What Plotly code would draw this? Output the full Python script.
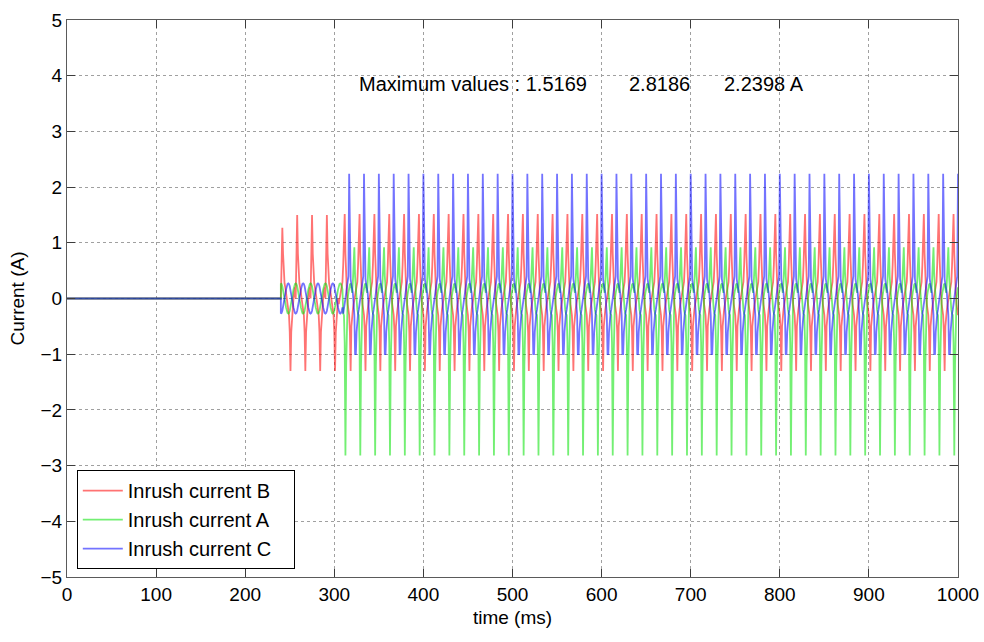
import plotly.graph_objects as go

# ---------------- data ----------------
PERIOD_MS = 1000.0 / 60.0          # 60 Hz supply
SAMPLES_PER_CYCLE = 20
END_MS = 1000.0

ENERGIZE_MS = 240.0                # phase B switched on
STEADY_REF_MS = 300.0              # steady-state cycles aligned on this time
SWITCH_B_MS = 305.0                # red trace changes to three-phase shape
SWITCH_AC_MS = 310.0               # phases A and C switched on

# one cycle (20 samples) of each current before A and C are switched on
B_PRE_CYCLE = [0.0, 0.6, 1.5, 0.8, 0.3, 0.27, 0.2, 0.1, 0.0, -0.1,
               -0.2, -0.3, -0.6, -1.3, -0.6, -0.3, -0.2, 0.0, 0.1, 0.2]
B_PRE_PEAKS = [1.27, 1.50, 1.50, 1.50, 1.50]
A_PRE_CYCLE = [0.27, 0.26, 0.22, 0.16, 0.08, 0.0, -0.08, -0.16, -0.22, -0.26,
               -0.27, -0.26, -0.22, -0.16, -0.08, 0.0, 0.08, 0.16, 0.22, 0.26]
C_PRE_CYCLE = [-0.27, -0.26, -0.22, -0.16, -0.08, 0.0, 0.08, 0.16, 0.22, 0.26,
               0.27, 0.26, 0.22, 0.16, 0.08, 0.0, -0.08, -0.16, -0.22, -0.26]

# one cycle (20 samples) of each current in steady three-phase inrush
B_CYCLE = [-0.3, -0.6, -1.3, -0.5, -0.27, -0.2, -0.1, 0.0, 0.1, 0.2,
           0.27, 0.3, 0.6, 1.0, 1.5169, 0.8, 0.3, 0.1, -0.1, -0.2]
A_CYCLE = [0.2, 0.25, 0.27, 0.2, 0.1, 0.3, 0.6, 0.92, 0.4, 0.1,
           -0.1, -0.2, -0.27, -0.3, -0.8, -2.8186, -1.2, -0.3, 0.0, 0.1]
C_CYCLE = [2.2398, 1.0, 0.35, 0.25, 0.2, 0.1, -0.1, -0.3, -1.0, -1.0,
           -0.6, -0.3, -0.27, -0.2, -0.1, 0.0, 0.1, 0.2, 0.27, 0.4]

SERIES_NAMES = ["Inrush current B", "Inrush current A", "Inrush current C"]
MAX_VALUES = ["1.5169", "2.8186", "2.2398 A"]

X_TICKS = [0, 100, 200, 300, 400, 500, 600, 700, 800, 900, 1000]
Y_TICKS = [-5, -4, -3, -2, -1, 0, 1, 2, 3, 4, 5]


def build(pre_cycle, cycle, switch_ms, pre_peaks=None):
    dt = PERIOD_MS / SAMPLES_PER_CYCLE
    t, v = [0.0, ENERGIZE_MS], [0.0, 0.0]
    i = 0
    while True:
        tt = ENERGIZE_MS + i * dt
        if tt >= switch_ms:
            break
        k, j = divmod(i, SAMPLES_PER_CYCLE)
        val = pre_cycle[j]
        if pre_peaks is not None and val == max(pre_cycle):
            val = pre_peaks[min(k, len(pre_peaks) - 1)]
        t.append(tt)
        v.append(val)
        i += 1
    i = 0
    while True:
        tt = STEADY_REF_MS + i * dt
        if tt > END_MS + 1e-9:
            break
        if tt >= switch_ms:
            t.append(tt)
            v.append(cycle[i % SAMPLES_PER_CYCLE])
        i += 1
    return t, v


tb, vb = build(B_PRE_CYCLE, B_CYCLE, SWITCH_B_MS, B_PRE_PEAKS)
ta, va = build(A_PRE_CYCLE, A_CYCLE, SWITCH_AC_MS)
tc, vc = build(C_PRE_CYCLE, C_CYCLE, SWITCH_AC_MS)

FONT = "Liberation Sans, Arial, sans-serif"
PAD = "\u00a0\u00a0\u00a0"   # a little room at the right of the legend box

fig = go.Figure()
fig.add_trace(go.Scatter(x=tb, y=vb, mode="lines", name=SERIES_NAMES[0] + PAD,
                         line=dict(color="rgba(255,0,0,0.55)", width=1.8)))
fig.add_trace(go.Scatter(x=ta, y=va, mode="lines", name=SERIES_NAMES[1] + PAD,
                         line=dict(color="rgba(0,225,0,0.55)", width=1.8)))
fig.add_trace(go.Scatter(x=tc, y=vc, mode="lines", name=SERIES_NAMES[2] + PAD,
                         line=dict(color="rgba(0,0,255,0.55)", width=1.8)))

ann_font = dict(family=FONT, size=20, color="black")
fig.add_annotation(x=325, y=3.86, xref="x", yref="y", xanchor="left",
                   text="Maximum values : " + MAX_VALUES[0], showarrow=False,
                   font=ann_font)
fig.add_annotation(x=628, y=3.86, xref="x", yref="y", xanchor="left",
                   text=MAX_VALUES[1], showarrow=False, font=ann_font)
fig.add_annotation(x=735, y=3.86, xref="x", yref="y", xanchor="left",
                   text=MAX_VALUES[2], showarrow=False, font=ann_font)

axis_common = dict(
    showline=True, linecolor="rgb(90,90,90)", linewidth=1, mirror="ticks",
    ticks="inside", ticklen=8, tickcolor="rgb(60,60,60)",
    showgrid=True, gridcolor="rgb(160,160,160)", griddash="dot", gridwidth=1,
    zeroline=False, automargin=False,
    tickfont=dict(family=FONT, size=19, color="black"),
)

fig.update_xaxes(range=[0, 1000], tickvals=X_TICKS,
                 title=dict(text="time (ms)",
                            font=dict(family=FONT, size=19, color="black"),
                            standoff=6),
                 **axis_common)
fig.update_yaxes(range=[-5, 5], tickvals=Y_TICKS,
                 ticktext=[("\u2212" + str(-v)) if v < 0 else str(v) for v in Y_TICKS],
                 title=dict(text="Current (A)",
                            font=dict(family=FONT, size=19, color="black"),
                            standoff=10),
                 **axis_common)

fig.update_layout(
    width=984, height=642,
    margin=dict(l=67, r=26, t=20, b=65),
    paper_bgcolor="white", plot_bgcolor="white",
    showlegend=True,
    legend=dict(x=0.011, y=0.192, xanchor="left", yanchor="top",
                bgcolor="white", bordercolor="black", borderwidth=1,
                font=dict(family=FONT, size=20, color="black"),
                itemwidth=40, tracegroupgap=0),
)

# remove the default page margin so the 984x642 figure fills the window exactly
fig.write_html(
    "out.html",
    config={"displayModeBar": False},
    post_script="document.documentElement.style.margin='0';"
                "document.body.style.margin='0';"
                "document.body.style.overflow='hidden';",
)
